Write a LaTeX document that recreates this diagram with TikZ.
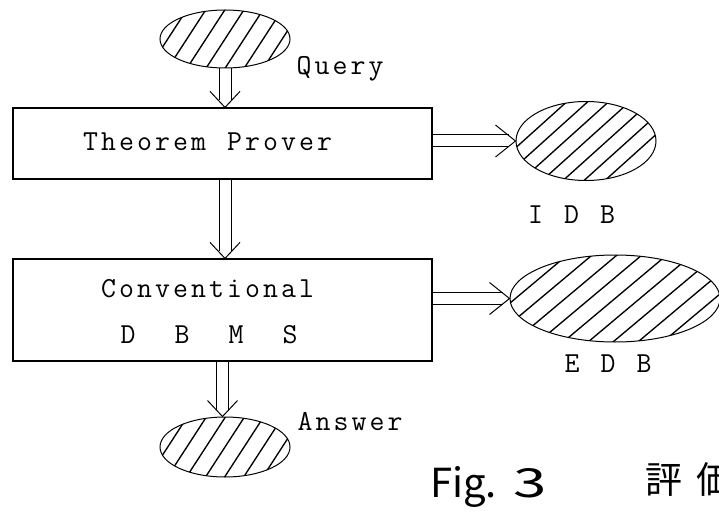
\documentclass[tikz,border=0pt]{standalone}
\usepackage{fontspec}
\newfontfamily\handfont{Noto Sans CJK JP}
\usetikzlibrary{shapes.geometric,calc,backgrounds}

% typewriter labels: every character sits on a fixed 18pt pitch, ~ marks a blank
\makeatletter
\newlength\ttpitch
\setlength\ttpitch{18pt}
\newcommand\typed[1]{\@tfor\tt@ch:=#1\do{\makebox[\ttpitch][c]{\tt@ch}}}
\makeatother

\tikzset{
  box/.style={draw, line width=1.2pt, inner sep=0pt, minimum width=419pt},
  blob/.style={ellipse, draw, line width=1pt, inner sep=0pt},
  % hatching: #1 = direction of the strokes (degrees), #2 = gap between strokes
  hatch/.style 2 args={path picture={
      \coordinate (hc) at (path picture bounding box.center);
      \foreach \k in {-10,...,10}
        \draw[line width=1.35pt]
          ($(hc)+(#1+90:\k*#2)+(#1:-140pt)$) -- ($(hc)+(#1+90:\k*#2)+(#1:140pt)$);}},
  lbl/.style={anchor=base, inner sep=0pt,
              font=\ttfamily\fontsize{29}{31}\selectfont},
  shaft/.style={double, double distance=11pt, line width=1pt, shorten >=7pt},
  vhead/.style={line width=1pt, line join=miter},
}

\begin{document}
\begin{tikzpicture}[x=1pt, y=-1pt]
  \useasboundingbox (0,0) rectangle (719,513);
  \begin{pgfonlayer}{background}
    \fill[white] (0,0) rectangle (719,513);
  \end{pgfonlayer}
  \clip (0,0) rectangle (719,513);

  % data sources and sinks
  \node[blob, minimum width=130pt, minimum height=58pt, hatch={57}{16pt}] (q) at (225,39) {};
  \node[blob, minimum width=140pt, minimum height=79pt, hatch={42}{14pt}] (idb) at (586,141) {};
  \node[blob, minimum width=210pt, minimum height=87pt, hatch={40}{16pt}] (edb) at (615,298.5) {};
  \node[blob, minimum width=130pt, minimum height=60pt, hatch={57}{16pt}] (ans) at (225,447) {};

  % processing boxes
  \node[box, minimum height=71pt] (tp) at (222.5,143.5) {};
  \node[box, minimum height=102pt] (cv) at (222.5,310) {};

  % labels
  \node[lbl] (tpt) at (207.5,150) {\typed{Theorem~Prover}};
  \node[lbl] (cvt) at (207.5,297) {\typed{Conventional}};
  \node[lbl] (cvd) at (209,343) {\typed{D~~B~~M~~S}};
  \node[lbl] (qt) at (340,75) {\typed{Query}};
  \node[lbl] (at) at (350,430) {\typed{Answer}};
  \node[lbl] (idbt) at (571.5,223) {\typed{I~D~B}};
  \node[lbl] (edbt) at (608,372) {\typed{E~D~B}};

  % arrow tips
  \coordinate (t1) at (q.south |- tp.north);
  \coordinate (t2) at (q.south |- cv.north);
  \coordinate (t3) at (cv.south |- ans.north);
  \coordinate (s4) at (tp.east |- idb.west);
  \coordinate (s5) at (cv.east |- edb.west);

  % hollow double arrows: shafts behind the shapes, open V heads on top
  \begin{pgfonlayer}{background}
    \draw[shaft] (q.south) -- (t1);
    \draw[shaft] (q.south |- tp.south) -- (t2);
    \draw[shaft] (cv.south) -- (t3);
    \draw[shaft] (s4) -- (idb.west);
    \draw[shaft] (s5) -- (edb.west);
  \end{pgfonlayer}
  \foreach \t in {t1,t2,t3}
    \draw[vhead] ([shift={(-15pt,16pt)}]\t) -- (\t) -- ([shift={(15pt,16pt)}]\t);
  \foreach \t in {idb.west,edb.west}
    \draw[vhead] ([shift={(-20pt,16pt)}]\t) -- (\t) -- ([shift={(-20pt,-16pt)}]\t);

  % handwritten caption
  \node[anchor=base west, inner sep=0pt, font=\handfont\fontsize{40}{40}\selectfont]
    (fig) at (430,497) {Fig.\hspace{17pt}\scalebox{1.5}[1]{3}};
  \node[anchor=west, inner sep=0pt, font=\handfont\fontsize{37}{37}\selectfont]
    (mark) at (645,479) {評\hspace{14pt}価};
\end{tikzpicture}
\end{document}
